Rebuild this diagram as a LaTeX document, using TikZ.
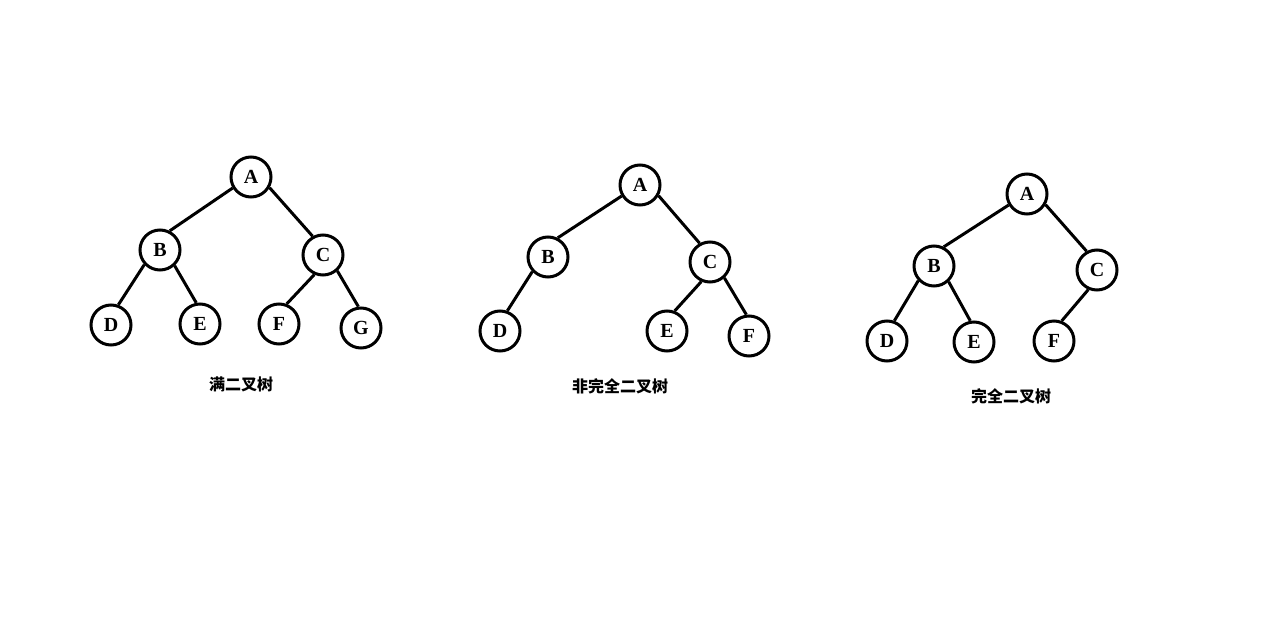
\documentclass[tikz,border=0pt]{standalone}
\usepackage{fontspec}
\newfontfamily\cjk{Noto Sans CJK SC}
\newfontfamily\letters{Liberation Serif}
\begin{document}
\begin{tikzpicture}[x=0.5pt, y={(0pt,-0.5pt)}]

    %--------------------%
    % Parameters
    %--------------------%
    \def\circlesize{20pt}
    \def\linethic{1.5pt}
    \tikzset{treenode/.style={draw, circle, minimum size=\circlesize, inner sep=0pt, line width=\linethic, font=\letters\bfseries\fontsize{10pt}{12pt}\selectfont},
             treelabel/.style={font=\cjk\bfseries\fontsize{8pt}{9pt}\selectfont},
             edge/.style={line width=\linethic}}

    \useasboundingbox (0,0) rectangle (1274,637);

    %--------------------%
    % Full Tree
    %--------------------%
    \node[treenode] (fullA) at (251,177) {A};
    \node[treenode] (fullB) at (160,250) {B};
    \node[treenode] (fullC) at (323,255) {C};
    \node[treenode] (fullD) at (111,325) {D};
    \node[treenode] (fullE) at (200,324) {E};
    \node[treenode] (fullF) at (279,324) {F};
    \node[treenode] (fullG) at (361,328) {G};
    \node[treelabel] (fulltitle) at (241,384) {满二叉树};

    %--------------------%
    % Not Complete Tree
    %--------------------%
    \node[treenode] (partA) at (640,185) {A};
    \node[treenode] (partB) at (548,257) {B};
    \node[treenode] (partC) at (710,262) {C};
    \node[treenode] (partD) at (500,331) {D};
    \node[treenode] (partE) at (667,331) {E};
    \node[treenode] (partF) at (749,336) {F};
    \node[treelabel] (parttitle) at (620,386) {非完全二叉树};

    %--------------------%
    % Complete Tree
    %--------------------%
    \node[treenode] (compA) at (1027,194) {A};
    \node[treenode] (compB) at (934,266) {B};
    \node[treenode] (compC) at (1097,270) {C};
    \node[treenode] (compD) at (887,341) {D};
    \node[treenode] (compE) at (974,342) {E};
    \node[treenode] (compF) at (1054,341) {F};
    \node[treelabel] (comptitle) at (1011,396) {完全二叉树};

    %--------------------%
    % Connections
    %--------------------%
    \draw[edge] (fullA.211) -- (fullB.63);
    \draw[edge] (fullA.330) -- (fullC.119);
    \draw[edge] (fullB.223) -- (fullD.70);
    \draw[edge] (fullB.313) -- (fullE.100);
    \draw[edge] (fullC.246) -- (fullF.69);
    \draw[edge] (fullC.312) -- (fullG.97);

    \draw[edge] (partA.211) -- (partB.63);
    \draw[edge] (partA.330) -- (partC.119);
    \draw[edge] (partB.223) -- (partD.70);
    \draw[edge] (partC.246) -- (partE.69);
    \draw[edge] (partC.312) -- (partF.97);

    \draw[edge] (compA.211) -- (compB.63);
    \draw[edge] (compA.330) -- (compC.119);
    \draw[edge] (compB.223) -- (compD.70);
    \draw[edge] (compB.313) -- (compE.100);
    \draw[edge] (compC.246) -- (compF.69);
\end{tikzpicture}
\end{document}
